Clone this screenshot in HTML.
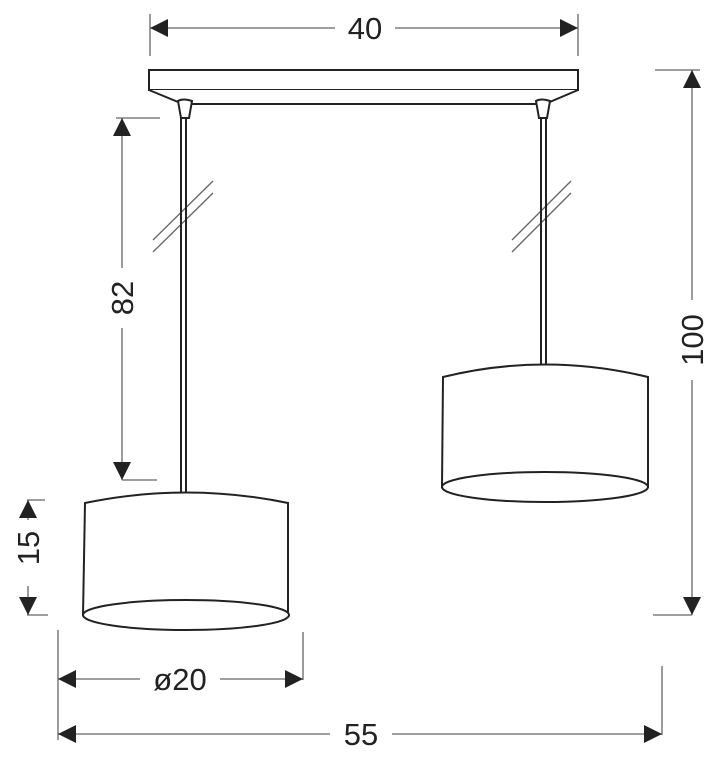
<!DOCTYPE html>
<html><head><meta charset="utf-8"><style>html,body{margin:0;padding:0;background:#fff}svg{display:block}</style></head>
<body>
<svg width="720" height="757" viewBox="0 0 720 757" xmlns="http://www.w3.org/2000/svg" font-family="Liberation Sans, sans-serif">
<defs>
<marker id="a" viewBox="0 0 10 10" refX="10" refY="5" markerWidth="18" markerHeight="18" markerUnits="userSpaceOnUse" orient="auto-start-reverse"><path d="M0,0 L10,5 L0,10 z" fill="#222"/></marker>
</defs>
<g stroke="#666" stroke-width="1.3" fill="none">
<!-- 40 -->
<line x1="150" y1="14" x2="150" y2="56"/><line x1="578" y1="14" x2="578" y2="56"/>
<line x1="150" y1="28" x2="335" y2="28" marker-start="url(#a)"/><line x1="395" y1="28" x2="578" y2="28" marker-end="url(#a)"/>
<!-- 82 -->
<line x1="116" y1="118" x2="160" y2="118"/><line x1="122" y1="480" x2="157" y2="480"/>
<line x1="122" y1="118" x2="122" y2="268" marker-start="url(#a)"/><line x1="122" y1="328" x2="122" y2="480" marker-end="url(#a)"/>
<!-- 15 -->
<line x1="27" y1="500" x2="45" y2="500"/><line x1="27" y1="615" x2="48" y2="615"/>
<line x1="28" y1="500" x2="28" y2="520" marker-start="url(#a)"/><line x1="28" y1="586" x2="28" y2="615" marker-end="url(#a)"/>
<!-- 100 -->
<line x1="655" y1="70" x2="700" y2="70"/><line x1="653" y1="615" x2="692" y2="615"/>
<line x1="692" y1="70" x2="692" y2="300" marker-start="url(#a)"/><line x1="692" y1="380" x2="692" y2="615" marker-end="url(#a)"/>
<!-- ø20 -->
<line x1="58" y1="630" x2="58" y2="740"/><line x1="303" y1="632" x2="303" y2="680"/>
<line x1="58" y1="679" x2="140" y2="679" marker-start="url(#a)"/><line x1="220" y1="679" x2="303" y2="679" marker-end="url(#a)"/>
<!-- 55 -->
<line x1="662" y1="666" x2="662" y2="735"/>
<line x1="58" y1="734" x2="330" y2="734" marker-start="url(#a)"/><line x1="392" y1="734" x2="662" y2="734" marker-end="url(#a)"/>
<!-- break marks -->
<line x1="153" y1="240" x2="213" y2="181"/><line x1="153" y1="252" x2="213" y2="193"/>
<line x1="512" y1="240" x2="571" y2="181"/><line x1="512" y1="252" x2="571" y2="193"/>
</g>
<g fill="#222" font-size="31">
<text x="365" y="39" text-anchor="middle">40</text>
<text x="180" y="690" text-anchor="middle">ø20</text>
<text x="361" y="745" text-anchor="middle">55</text>
<text transform="translate(133,298) rotate(-90)" text-anchor="middle">82</text>
<text transform="translate(39,548) rotate(-90)" text-anchor="middle">15</text>
<text transform="translate(703,340) rotate(-90)" text-anchor="middle">100</text>
</g>
<g stroke="#222" stroke-width="2" fill="#fff">
<rect x="149" y="70" width="429" height="20"/>
<path d="M149,90 L183,104 L545,104 L578,90"/>
<!-- rods -->
<line x1="181" y1="118" x2="181" y2="492"/><line x1="186" y1="118" x2="186" y2="492"/>
<line x1="541" y1="118" x2="541" y2="364"/><line x1="546" y1="118" x2="546" y2="364"/>
<path d="M178,101 Q183,98 192,101 L189,118 L181,118 Z"/>
<path d="M536,101 Q541,98 550,101 L547,118 L539,118 Z"/>
<!-- left shade -->
<path d="M85,503 Q186,482 288,503 L288,615 L83,615 Z"/>
<ellipse cx="186" cy="615" rx="103" ry="15"/>
<!-- right shade -->
<path d="M443,377 Q545,352 648,377 L648,487 L442,487 Z"/>
<ellipse cx="545" cy="487" rx="103" ry="15"/>
</g>
</svg>
</body></html>
